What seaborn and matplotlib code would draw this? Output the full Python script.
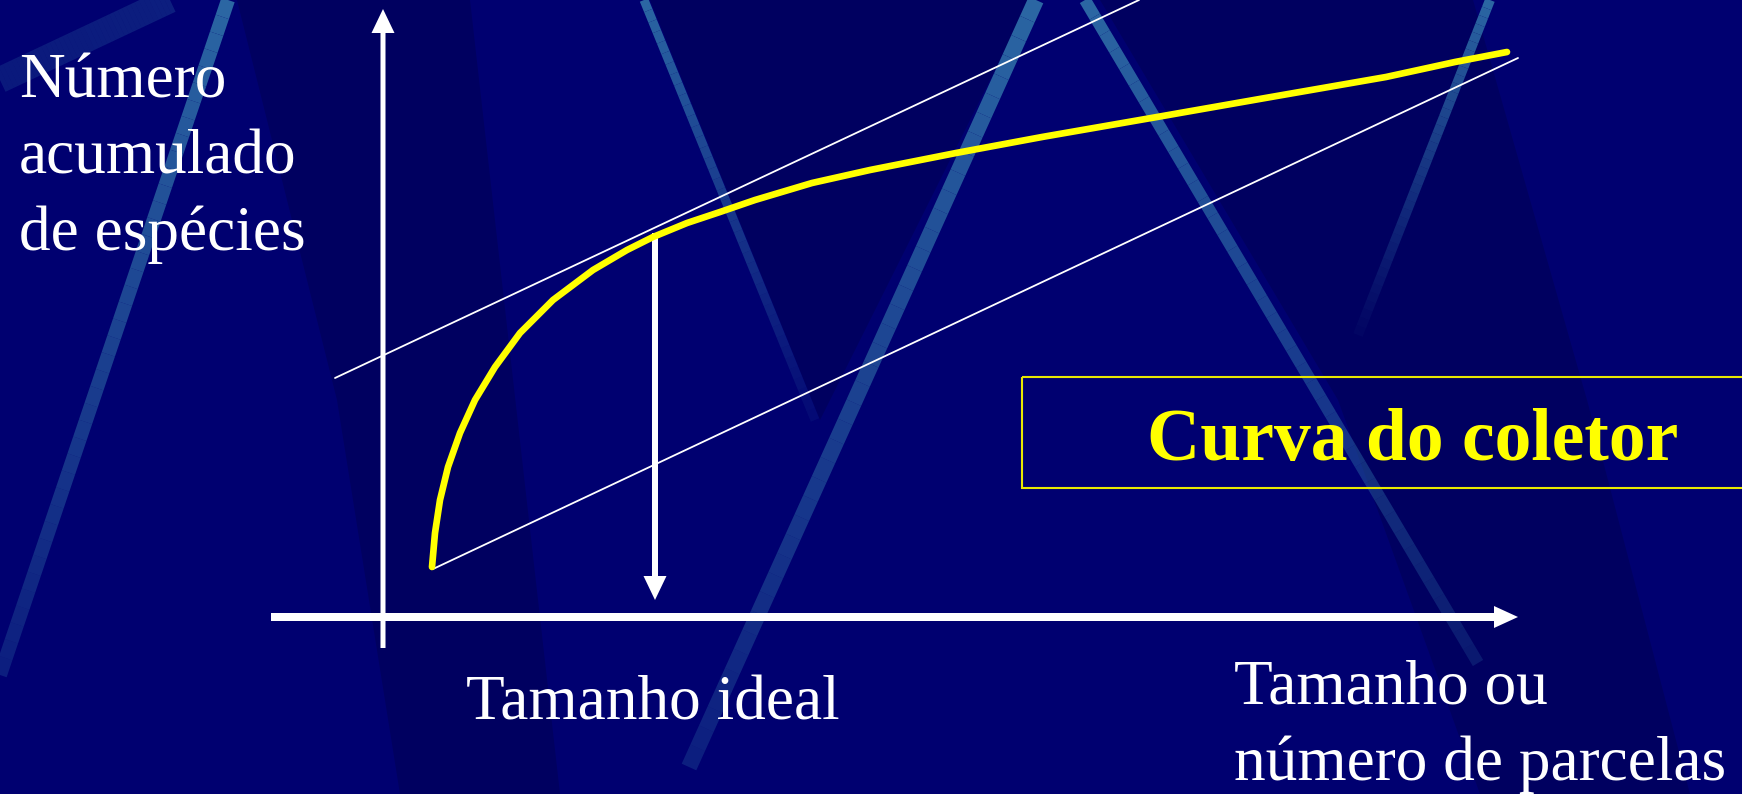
import numpy as np
import pandas as pd
import seaborn as sns
import matplotlib.pyplot as plt
from matplotlib.patches import Polygon, Rectangle

# collector curve (pixel space, y grows downwards)
curve_x = [432, 435, 440, 448, 460, 475, 495, 520, 553, 593, 627, 653, 687, 720,
           755, 812, 870, 956, 1042, 1157, 1271, 1386, 1455, 1507]
curve_y = [567, 533, 500, 467, 433, 400, 367, 333, 300, 270, 250, 237, 223, 212,
           200, 183, 170, 153, 137, 117, 97, 77, 62, 52]

# the two parallel guide lines
upper_x = [335, 1139]
upper_y = [378, 0]
lower_x = [433, 1518]
lower_y = [569, 58]

# axes and the "ideal size" arrow
yaxis_x, yaxis_bottom, yaxis_top = 383, 648, 9
xaxis_y, xaxis_left, xaxis_right = 617, 271, 1518
ideal_x, ideal_top, ideal_tip = 655, 233, 600

# texts
ylabel_lines = ["Número", "acumulado", "de espécies"]
ylabel_base = [97, 173, 250]
xlabel_lines = ["Tamanho ou", "número de parcelas"]
xlabel_base = [704, 780]
ideal_label = "Tamanho ideal"
title = "Curva do coletor"

# background decoration (template streaks)
streaks = [
    ((228, 0), (0, 675), 14, 1.0, 0.3),
    ((0, 80), (170, 0), 26, 0.25, 0.3),
    ((644, 0), (815, 420), 9, 1.0, 0.1),
    ((1036, 0), (689, 767), 16, 1.0, 0.3),
    ((1085, 0), (1478, 663), 12, 1.0, 0.25),
    ((1490, 0), (1358, 335), 10, 1.0, 0.05),
]
dark_wedges = [
    [(237, 0), (470, 0), (560, 794), (400, 794), (337, 400)],
    [(650, 0), (1030, 0), (820, 420)],
    [(1100, 0), (1473, 0), (1587, 400), (1690, 794), (1480, 794), (1338, 400)],
]

sns.set_theme(style="dark")
plt.rcParams['font.family'] = ['Liberation Serif', 'DejaVu Serif']

W, H = 1742, 794
fig = plt.figure(figsize=(W / 100, H / 100), dpi=100, facecolor='#000070')
ax = fig.add_axes([0, 0, 1, 1])
ax.set_facecolor('#000070')
ax.set_xlim(0, W)
ax.set_ylim(H, 0)
ax.axis('off')

for pts in dark_wedges:
    ax.add_patch(Polygon(pts, closed=True, color='#000048', alpha=0.4, lw=0, zorder=0))

for (x0, y0), (x1, y1), w, a0, a1 in streaks:
    n = 40
    xs = np.linspace(x0, x1, n + 1)
    ys = np.linspace(y0, y1, n + 1)
    alphas = np.linspace(a0, a1, n)
    for i in range(n):
        ax.plot(xs[i:i + 2], ys[i:i + 2], color='#2B66A3', lw=w * 0.72,
                alpha=alphas[i], solid_capstyle='butt', zorder=1)

# guide lines
sns.lineplot(x=upper_x, y=upper_y, ax=ax, color='white', lw=1.3, zorder=3)
sns.lineplot(x=lower_x, y=lower_y, ax=ax, color='white', lw=1.3, zorder=3)

# axes arrows
ax.arrow(yaxis_x, yaxis_bottom, 0, yaxis_top - yaxis_bottom, width=5, head_width=23,
         head_length=24, length_includes_head=True, color='white', lw=0, zorder=4)
ax.arrow(xaxis_left, xaxis_y, xaxis_right - xaxis_left, 0, width=8, head_width=22,
         head_length=24, length_includes_head=True, color='white', lw=0, zorder=4)
ax.arrow(ideal_x, ideal_top, 0, ideal_tip - ideal_top, width=6, head_width=23,
         head_length=24, length_includes_head=True, color='white', lw=0, zorder=4)

# collector curve
df = pd.DataFrame({'x': curve_x, 'y': curve_y})
sns.lineplot(data=df, x='x', y='y', ax=ax, sort=False, estimator=None,
             color='#FFFF00', lw=4.8, solid_capstyle='round', solid_joinstyle='round',
             zorder=5)

# title box
ax.add_patch(Rectangle((1022, 377), 740, 111, fill=False, edgecolor='#E8E800',
                       lw=1.5, zorder=3))
ax.text(1147, 460, title, color='#FFFF00', fontsize=53, fontweight='bold',
        va='baseline', ha='left', zorder=6)

for line, yb in zip(ylabel_lines, ylabel_base):
    ax.text(19, yb, line, color='white', fontsize=45.5, va='baseline', ha='left', zorder=6)
for line, yb in zip(xlabel_lines, xlabel_base):
    ax.text(1234, yb, line, color='white', fontsize=45.5, va='baseline', ha='left', zorder=6)
ax.text(466, 720, ideal_label, color='white', fontsize=45.5, va='baseline', ha='left', zorder=6)

ax.set_xlabel('')
ax.set_ylabel('')
fig.savefig('out.png', dpi=100, facecolor=fig.get_facecolor())
